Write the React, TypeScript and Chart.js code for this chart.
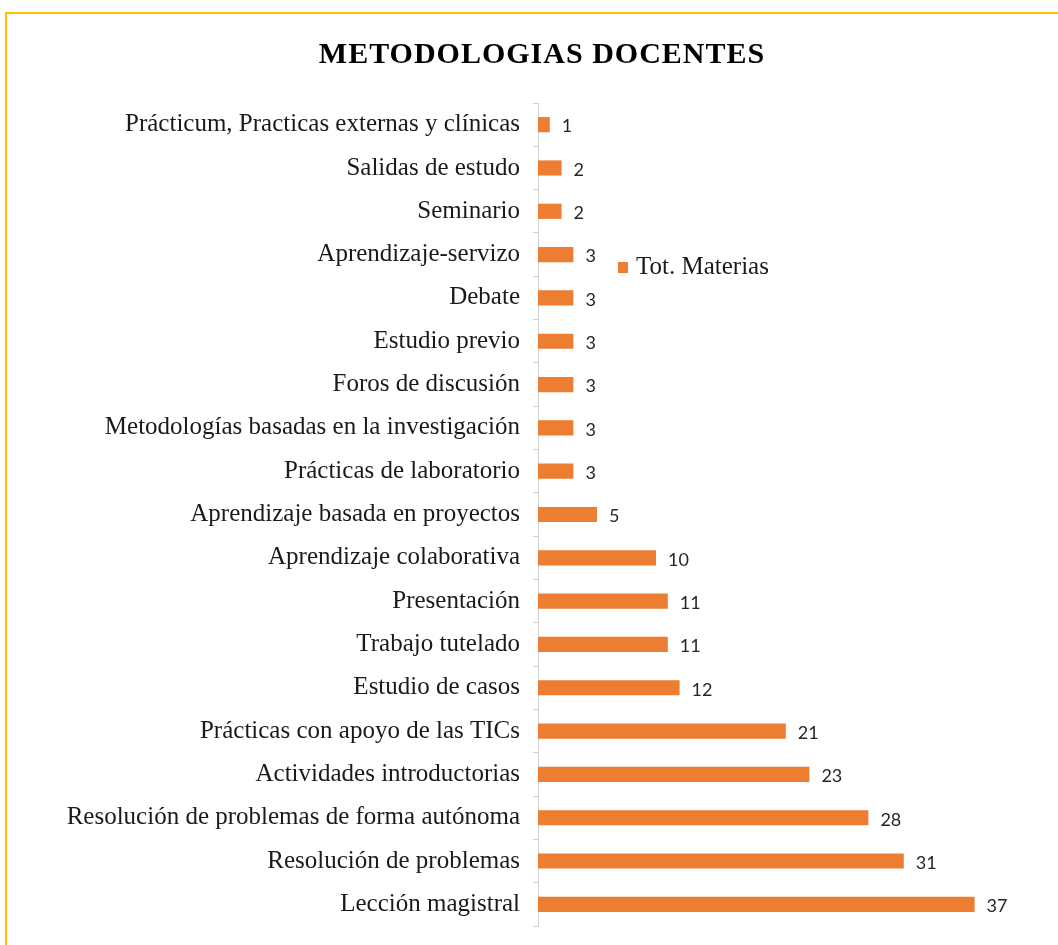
import React, { useEffect, useRef } from "react";
import { Chart, registerables } from "chart.js";

Chart.register(...registerables);

const categories = [
  "Prácticum, Practicas externas y clínicas",
  "Salidas de estudo",
  "Seminario",
  "Aprendizaje-servizo",
  "Debate",
  "Estudio previo",
  "Foros de discusión",
  "Metodologías basadas en la investigación",
  "Prácticas de laboratorio",
  "Aprendizaje basada en proyectos",
  "Aprendizaje colaborativa",
  "Presentación",
  "Trabajo tutelado",
  "Estudio de casos",
  "Prácticas con apoyo de las TICs",
  "Actividades introductorias",
  "Resolución de problemas de forma autónoma",
  "Resolución de problemas",
  "Lección magistral",
];

const totMaterias = [1, 2, 2, 3, 3, 3, 3, 3, 3, 5, 10, 11, 11, 12, 21, 23, 28, 31, 37];

const seriesLabel = "Tot. Materias";
const chartTitle = "METODOLOGIAS DOCENTES";

const BAR_COLOR = "#ED7D31";
const SERIF = "'Liberation Serif', 'Times New Roman', serif";

const titlePlugin = {
  id: "customTitle",
  afterDraw(chart: any) {
    const ctx = chart.ctx;
    ctx.save();
    ctx.font = `bold 30px ${SERIF}`;
    (ctx as any).letterSpacing = "1px";
    ctx.fillStyle = "#000";
    ctx.textAlign = "center";
    ctx.textBaseline = "alphabetic";
    ctx.fillText(chartTitle, 542, 63);
    ctx.restore();
  },
};

const valueLabels = {
  id: "valueLabels",
  afterDatasetsDraw(chart: any) {
    const ctx = chart.ctx;
    const meta = chart.getDatasetMeta(0);
    ctx.save();
    ctx.font = "18px Lato, 'Open Sans', sans-serif";
    ctx.fillStyle = "#262626";
    ctx.textAlign = "left";
    ctx.textBaseline = "middle";
    meta.data.forEach((bar: any, i: number) => {
      ctx.fillText(String(chart.data.datasets[0].data[i]), bar.x + 12, bar.y + 2);
    });
    ctx.restore();
  },
};

const customLegend = {
  id: "customLegend",
  afterDraw(chart: any) {
    const ctx = chart.ctx;
    const ds = chart.data.datasets[0];
    ctx.save();
    ctx.fillStyle = ds.backgroundColor;
    ctx.fillRect(618, 262, 10, 11);
    ctx.font = `25px ${SERIF}`;
    ctx.fillStyle = "#1a1a1a";
    ctx.textAlign = "left";
    ctx.textBaseline = "middle";
    ctx.fillText(ds.label, 636, 267);
    ctx.restore();
  },
};

export default function App() {
  const canvasRef = useRef<HTMLCanvasElement>(null);

  useEffect(() => {
    if (!canvasRef.current) return;
    const chart = new Chart(canvasRef.current, {
      type: "bar",
      data: {
        labels: categories,
        datasets: [
          {
            label: seriesLabel,
            data: totMaterias,
            backgroundColor: BAR_COLOR,
            categoryPercentage: 1,
            barPercentage: 0.35,
          },
        ],
      },
      plugins: [valueLabels, customLegend, titlePlugin],
      options: {
        indexAxis: "y",
        animation: false,
        responsive: false,
        maintainAspectRatio: false,
        layout: { padding: { left: 0, right: 48, top: 103, bottom: 19 } },
        plugins: {
          legend: { display: false },
          tooltip: { enabled: false },
          title: { display: false },
        },
        scales: {
          x: {
            display: false,
            min: 0,
            max: 40,
          },
          y: {
            afterFit(scale: any) {
              scale.width = 538;
              scale.paddingTop = 0;
              scale.paddingBottom = 0;
            },
            grid: {
              drawOnChartArea: false,
              drawTicks: true,
              tickLength: 5,
              color: "#d0d0d0",
              offset: true,
            },
            border: { display: true, color: "#d0d0d0", width: 1 },
            ticks: {
              color: "#1a1a1a",
              padding: 13,
              font: { family: SERIF, size: 25 },
              autoSkip: false,
            },
          },
        },
      },
    });
    return () => chart.destroy();
  }, []);

  return (
    <div style={{ position: "absolute", left: 0, top: 0, width: 1058, height: 945, overflow: "hidden", background: "#fff" }}>
      <div
        style={{
          position: "absolute",
          left: 5,
          top: 12,
          width: 1100,
          height: 1000,
          border: "2px solid #FFC000",
          boxSizing: "border-box",
        }}
      />
      <canvas ref={canvasRef} width={1058} height={945} style={{ position: "absolute", left: 0, top: 0 }} />
    </div>
  );
}
